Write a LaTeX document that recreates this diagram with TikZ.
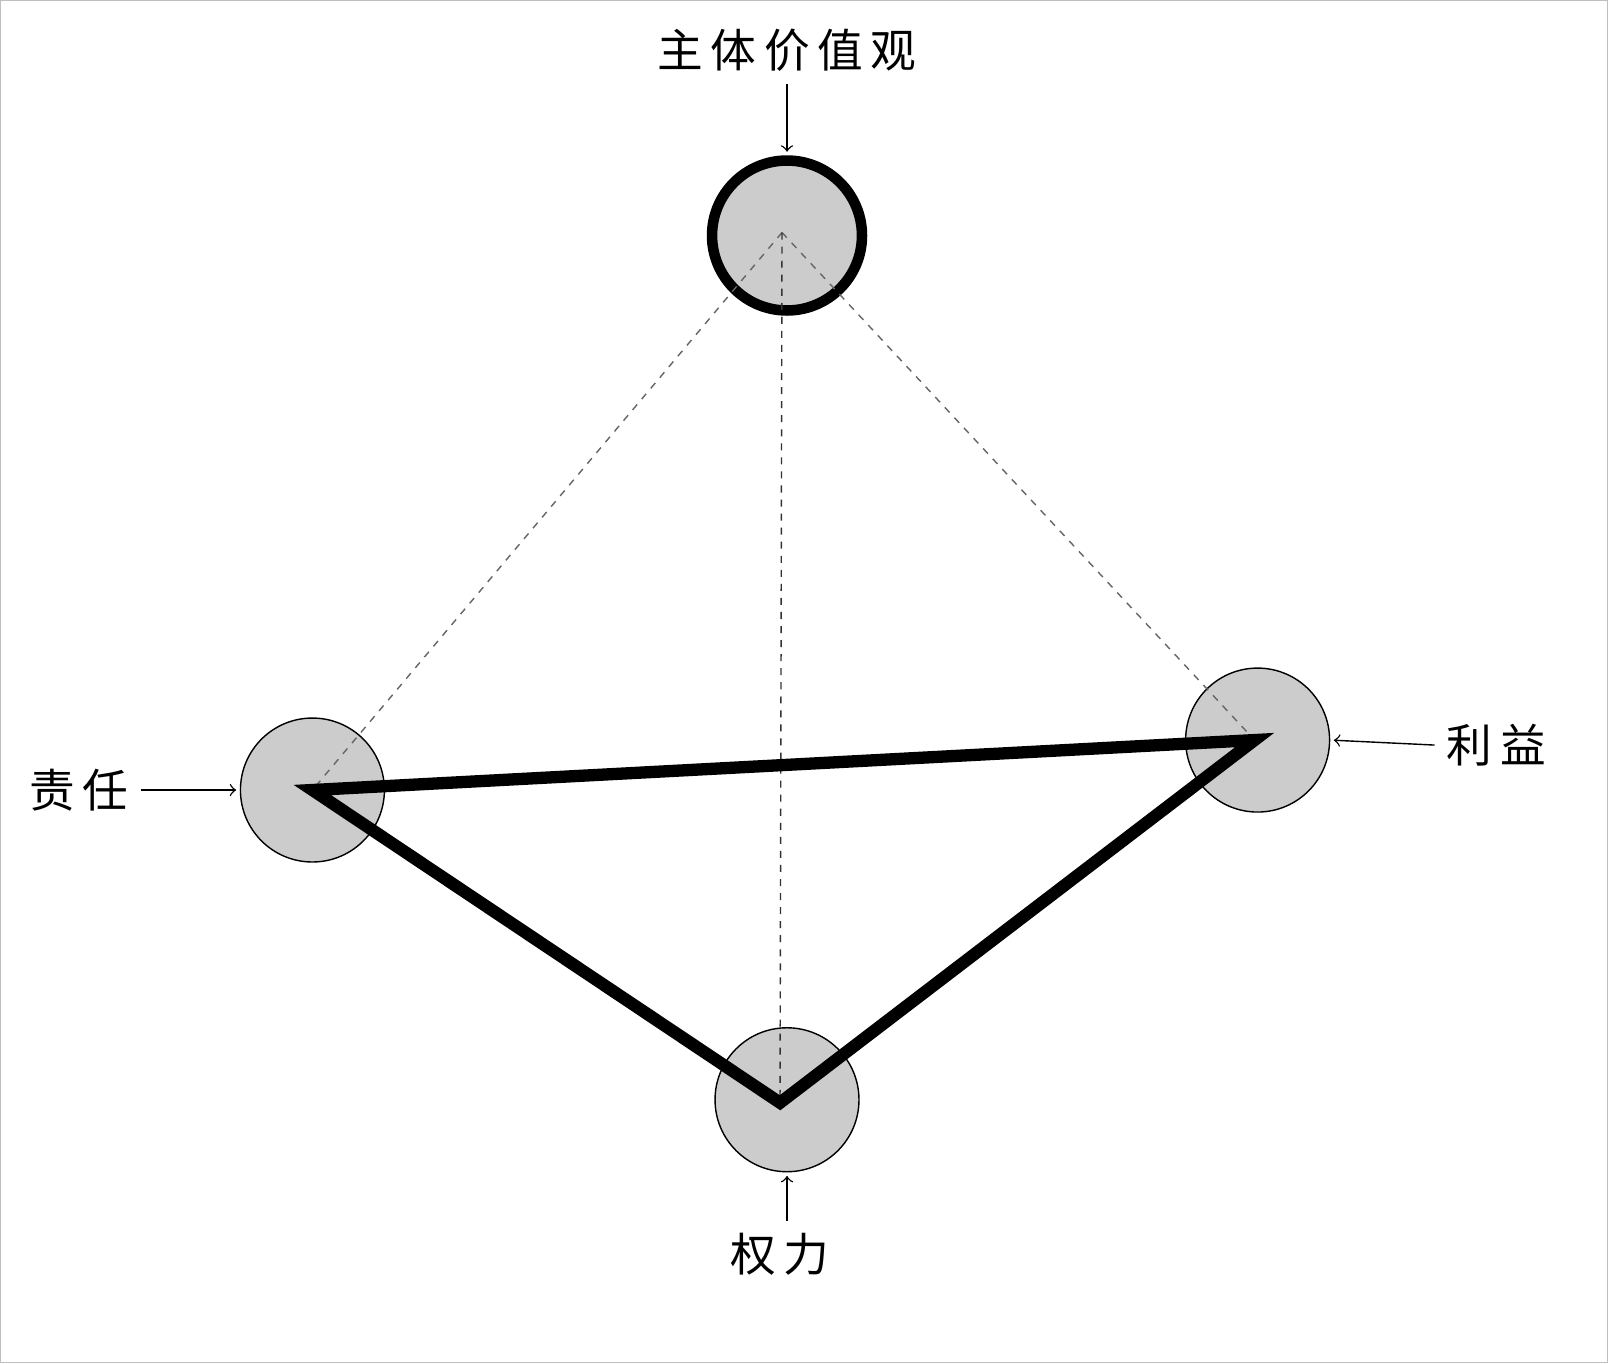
\documentclass[tikz,border=0pt]{standalone}
\usepackage{fontspec}
\newfontfamily\cjk{Noto Sans CJK SC}
\usetikzlibrary{arrows,positioning,calc}

\begin{document}
\begin{tikzpicture}[x=0.01cm,y=-0.01cm]
\tikzset{
  ball/.style={draw, circle, fill=black!20, minimum size=1.44cm, inner sep=0pt},
  lab/.style={font=\cjk\fontsize{13}{15}\selectfont},
  pointer/.style={->, >=to, thin, shorten >=1pt}
}
% Frame
\draw[black!25, fill=white] (0,0) rectangle (1608,1363);

% Circles
\node[ball, line width=3pt, minimum size=1.5cm] (value) at (787,235) {};
\node[ball] (duty) at (312,790) {};
\node[ball] (benefit) at (1258,740) {};
\node[ball] (power) at (787,1100) {};

% Centres
\coordinate (vc) at (782,232);
\coordinate (dc) at (312,790);
\coordinate (bc) at (1255,740);
\coordinate (pc) at (780,1103);

% Dotted links
\draw[dashed, dash pattern=on 2pt off 2pt, black!60] (vc) -- (dc);
\draw[dashed, dash pattern=on 2pt off 2pt, black!60] (vc) -- (bc);
\draw[dashed, dash pattern=on 2pt off 2pt, black!80] (vc) -- (pc);

% Triangle
\draw[line width=3.5pt, line join=miter] (dc) -- (bc) -- (pc) -- cycle;

% Labels
\node[lab] (valuelab) at (787,50) {主\,体\,价\,值\,观};
\node[lab] (dutylab) at (78,790) {责\,任};
\node[lab] (benefitlab) at (1497,745) {利\,益};
\node[lab] (powerlab) at (780,1255) {权\,力};

% Arrows
\draw[pointer] (valuelab.south) -- (value.north);
\draw[pointer] (dutylab.east) -- (duty.west);
\draw[pointer] (benefitlab.west) -- (benefit.east);
\draw[pointer] (powerlab.north -| power.south) -- (power.south);
\end{tikzpicture}
\end{document}
